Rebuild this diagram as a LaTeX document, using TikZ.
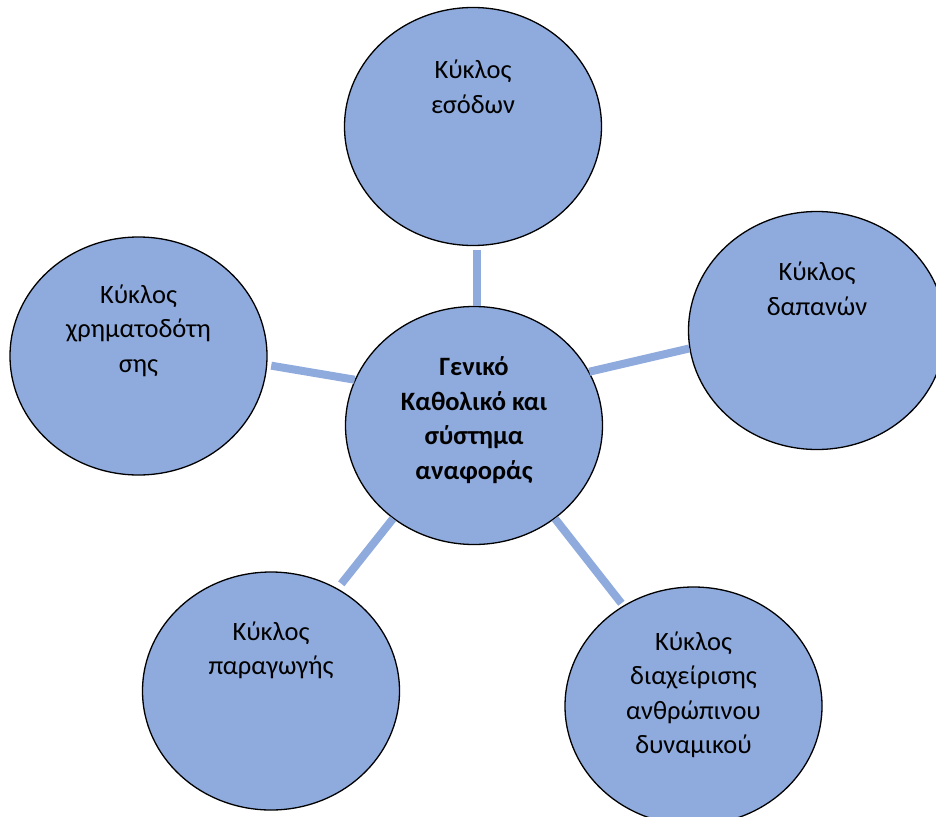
\documentclass[tikz,border=0pt]{standalone}
\usepackage{fontspec}
\setmainfont{Carlito}
\usetikzlibrary{shapes.geometric}
\definecolor{cyclefill}{HTML}{8FAADC}
\begin{document}
\begin{tikzpicture}[x=1pt,y=-1pt,
  cycle/.style={ellipse, draw=black, line width=1.3pt, fill=cyclefill,
    minimum width=257pt, minimum height=238pt, inner sep=0pt},
  % anchor=base sits on the last line of a multi-line node
  cycletext/.style={anchor=base, align=center, inner sep=0pt,
    font=\fontsize{26.5}{34.5}\selectfont, text=black},
  link/.style={draw=cyclefill, line width=8pt}]
\useasboundingbox (0,0) rectangle (936,816);
\clip (0,0) rectangle (936,816);

% the six cycles
\node[cycle] (top)    at (473,126.5) {};
\node[cycle] (centre) at (474,425.5) {};
\node[cycle] (left)   at (138.5,356) {};
\node[cycle] (right)  at (817,330.5) {};
\node[cycle] (botl)   at (271,691)   {};
\node[cycle] (botr)   at (693.5,706) {};

% spokes from the central system to each cycle
\draw[link, shorten <=4pt] ([xshift=4pt]top.south) -- ([xshift=4pt]top.south |- centre.north);
\draw[link, shorten <=4pt] (left.-4.6) -- (centre.159.6);
\draw[link] (centre.25) -- (right.188.4);
\draw[link, shorten <=6pt] (botl.57.7) -- (centre.229);
\draw[link, shorten >=3pt] (centre.-49) -- (botr.125.4);

% texts
\node[cycletext] (ttop)    at ([yshift=13.5pt]top.center)   {Κύκλος\\εσόδων};
\node[cycletext] (tright)  at ([yshift=15.5pt]right.center) {Κύκλος\\δαπανών};
\node[cycletext] (tleft)   at ([yshift=-16pt]left.center)   {Κύκλος\\χρηματοδότη\\σης};
\node[cycletext] (tbotl)   at ([yshift=16.5pt]botl.center)  {Κύκλος\\παραγωγής};
\node[cycletext] (tbotr)   at ([yshift=-47.5pt]botr.center) {Κύκλος\\διαχείρισης\\ανθρώπινου\\δυναμικού};
\node[cycletext, font=\fontsize{26.5}{34.5}\selectfont\bfseries] (tcentre) at ([yshift=-53.5pt]centre.center)
  {Γενικό\\Καθολικό και\\σύστημα\\αναφοράς};
\end{tikzpicture}
\end{document}
